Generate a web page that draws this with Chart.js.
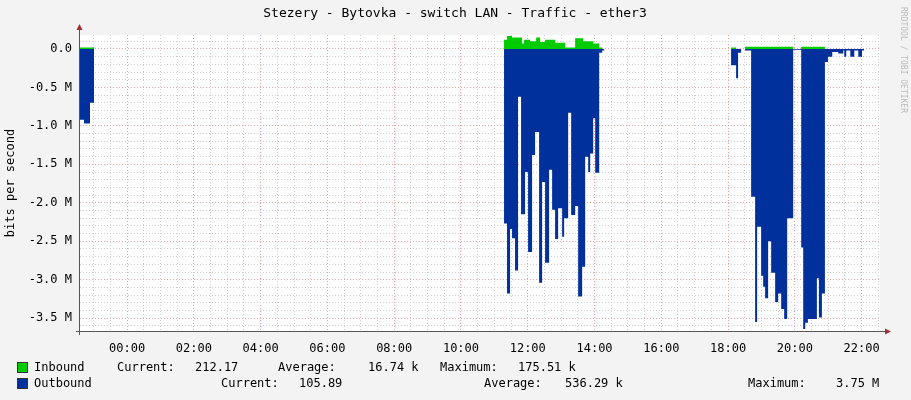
<!DOCTYPE html>
<html>
<head>
<meta charset="utf-8">
<script src="https://cdn.jsdelivr.net/npm/chart.js@4/dist/chart.umd.min.js"></script>
<style>
  html, body { margin: 0; padding: 0; background: #f3f3f3; }
  #wrap { width: 911px; height: 400px; }
</style>
</head>
<body>
<div id="wrap"><canvas id="c"></canvas></div>
<script>
// hours relative to midnight, step starts
const outHours = [-1.41, -1.29, -1.11, -0.99,
  11.29, 11.38, 11.47, 11.53, 11.62, 11.71, 11.80, 11.92, 12.01, 12.13, 12.22, 12.34, 12.43, 12.52,
  12.64, 12.73, 12.82, 12.91, 13.03, 13.09, 13.21, 13.30, 13.42, 13.51, 13.63, 13.72, 13.81, 13.87,
  13.96, 14.02, 14.14, 14.23, 14.29,
  18.09, 18.24, 18.30, 18.39, 18.51, 18.69, 18.81, 18.87, 18.99, 19.05, 19.11, 19.20, 19.29, 19.41,
  19.50, 19.59, 19.68, 19.77, 19.95, 20.19, 20.25, 20.31, 20.39, 20.48, 20.66, 20.72, 20.81, 20.90,
  20.99, 21.12, 21.30, 21.45, 21.48, 21.54, 21.66, 21.78, 21.90, 22.01, 22.08];
// Mbit/s (negative = outbound)
const outValues = [-0.92, -0.97, -0.70, 0,
  -2.27, -3.18, -2.34, -2.46, -2.88, -0.62, -2.15, -1.60, -2.64, -1.38, -1.08, -3.04, -1.73, -2.78,
  -1.57, -2.09, -2.47, -2.07, -2.44, -2.20, -0.83, -2.16, -2.04, -3.22, -2.83, -1.40, -1.60, -1.36,
  -0.90, -1.61, -0.05, -0.02, 0,
  -0.21, -0.38, -0.05, 0, -0.02, -1.92, -3.55, -2.31, -2.95, -3.09, -3.24, -2.50, -2.91, -3.29,
  -3.18, -3.38, -3.51, -2.20, -0.01, -2.58, -3.64, -3.56, -3.51, -3.51, -2.98, -3.49, -3.18, -0.17,
  -0.10, -0.04, -0.06, -0.02, -0.10, -0.02, -0.10, -0.02, -0.10, -0.02, 0];

const inHours = [-1.41, -0.99,
  11.29, 11.38, 11.53, 11.83, 11.89, 12.07, 12.25, 12.37, 12.52, 12.82, 13.12, 13.42, 13.66,
  13.96, 14.14, 14.23, 14.29,
  18.09, 18.24, 18.51, 19.95, 20.19, 20.90];
const inValues = [0.02, 0,
  0.12, 0.17, 0.15, 0.07, 0.12, 0.10, 0.15, 0.09, 0.12, 0.08, 0.02, 0.14, 0.10,
  0.07, 0.02, 0, 0,
  0.02, 0, 0.03, 0, 0.03, 0];

const xLabels = ['00:00','02:00','04:00','06:00','08:00','10:00','12:00','14:00','16:00','18:00','20:00','22:00'];
const yLabels = ['0.0','-0.5 M','-1.0 M','-1.5 M','-2.0 M','-2.5 M','-3.0 M','-3.5 M'];

const legendRows = [
  { name: 'Inbound', color: '#00cc00', parts: [[117,'Current:'],[195,'212.17'],[278,'Average:'],[368,'16.74 k'],[440,'Maximum:'],[518,'175.51 k']] },
  { name: 'Outbound', color: '#00309c', parts: [[221,'Current:'],[299,'105.89'],[484,'Average:'],[565,'536.29 k'],[748,'Maximum:'],[836,'3.75 M']] }
];

const toPts = (h, v) => h.map((x, i) => ({ x: x, y: v[i] * 1e6 }));
const MONO = '"DejaVu Sans Mono", monospace';

const decor = {
  id: 'decor',
  beforeDraw(chart) {
    const { ctx, chartArea: a } = chart;
    ctx.save();
    ctx.fillStyle = '#f3f3f3';
    ctx.fillRect(0, 0, chart.width, chart.height);
    ctx.fillStyle = '#ffffff';
    ctx.fillRect(a.left, a.top, a.right - a.left, a.bottom - a.top);
    ctx.restore();
  },
  afterDraw(chart) {
    const { ctx, chartArea: a } = chart;
    ctx.save();
    ctx.fillStyle = '#000';
    ctx.font = '13px ' + MONO;
    ctx.textAlign = 'center';
    ctx.textBaseline = 'middle';
    ctx.fillText('Stezery - Bytovka - switch LAN - Traffic - ether3', 455, 14);
    ctx.save();
    ctx.translate(11, (a.top + a.bottom) / 2);
    ctx.rotate(-Math.PI / 2);
    ctx.font = '12px ' + MONO;
    ctx.fillText('bits per second', 0, 0);
    ctx.restore();
    ctx.save();
    ctx.translate(903, 60);
    ctx.rotate(Math.PI / 2);
    ctx.font = '8px ' + MONO;
    ctx.fillStyle = '#bbb';
    ctx.fillText('RRDTOOL / TOBI OETIKER', 0, 0);
    ctx.restore();
    // axes
    ctx.strokeStyle = '#555';
    ctx.lineWidth = 1;
    ctx.beginPath();
    ctx.moveTo(a.left - 0.5, a.top - 6); ctx.lineTo(a.left - 0.5, a.bottom + 4);
    ctx.moveTo(a.left - 4, a.bottom + 0.5); ctx.lineTo(a.right + 6, a.bottom + 0.5);
    ctx.stroke();
    ctx.fillStyle = '#a03030';
    ctx.beginPath();
    ctx.moveTo(a.left - 3.5, a.top - 5); ctx.lineTo(a.left + 2.5, a.top - 5); ctx.lineTo(a.left - 0.5, a.top - 11); ctx.fill();
    ctx.beginPath();
    ctx.moveTo(a.right + 5, a.bottom - 2.5); ctx.lineTo(a.right + 5, a.bottom + 3.5); ctx.lineTo(a.right + 11, a.bottom + 0.5); ctx.fill();
    // legend
    ctx.font = '12px ' + MONO;
    ctx.textAlign = 'left';
    legendRows.forEach((r, i) => {
      const y = 368 + i * 16;
      ctx.fillStyle = r.color;
      ctx.fillRect(18, y - 5, 9, 9);
      ctx.strokeStyle = '#333';
      ctx.strokeRect(17.5, y - 5.5, 10, 10);
      ctx.fillStyle = '#000';
      ctx.fillText(r.name, 34, y);
      r.parts.forEach(p => ctx.fillText(p[1], p[0], y));
    });
    ctx.restore();
  }
};

const gridColor = (major) => (c) => (c.tick && c.tick.major) ? '#f0a0a0' : '#d0d0d0';

new Chart(document.getElementById('c'), {
  type: 'line',
  data: {
    datasets: [
      { label: 'Outbound', data: toPts(outHours, outValues), stepped: 'before', fill: 'origin',
        backgroundColor: '#00309c', borderColor: '#00309c', borderWidth: 0, pointRadius: 0 },
      { label: 'Inbound', data: toPts(inHours, inValues), stepped: 'before', fill: 'origin',
        backgroundColor: '#00cc00', borderColor: '#00cc00', borderWidth: 0, pointRadius: 0 }
    ]
  },
  options: {
    responsive: true,
    maintainAspectRatio: false,
    animation: false,
    layout: { padding: { top: 35, right: 31, left: 0, bottom: 0 } },
    plugins: { legend: { display: false }, tooltip: { enabled: false } },
    scales: {
      x: {
        type: 'linear', min: -1.41, max: 22.55,
        afterBuildTicks: (s) => {
          const t = [];
          for (let h = -1; h <= 22.5; h += 0.5) t.push({ value: h, major: h >= 0 && h % 2 === 0 });
          s.ticks = t;
        },
        afterFit: (s) => { s.height = 69; },
        grid: { color: gridColor(), drawTicks: false },
        border: { display: false, dash: [1, 2] },
        ticks: {
          autoSkip: false, maxRotation: 0, padding: 11, color: '#000',
          font: { family: MONO, size: 12 },
          callback: (v) => (v >= 0 && v % 2 === 0) ? xLabels[v / 2] : ''
        }
      },
      y: {
        min: -3.667e6, max: 0.182e6,
        afterBuildTicks: (s) => {
          const t = [];
          for (let k = 1; k >= -36; k--) t.push({ value: k * 1e5, major: k % 5 === 0 });
          s.ticks = t;
        },
        afterFit: (s) => { s.width = 80; },
        grid: { color: gridColor(), drawTicks: false },
        border: { display: false, dash: [1, 2] },
        ticks: {
          autoSkip: false, padding: 8, color: '#000',
          font: { family: MONO, size: 12 },
          callback: (v) => {
            const k = Math.round(v / 1e5);
            return (k <= 0 && k % 5 === 0) ? yLabels[-k / 5] : '';
          }
        }
      }
    }
  },
  plugins: [decor]
});
</script>
</body>
</html>
